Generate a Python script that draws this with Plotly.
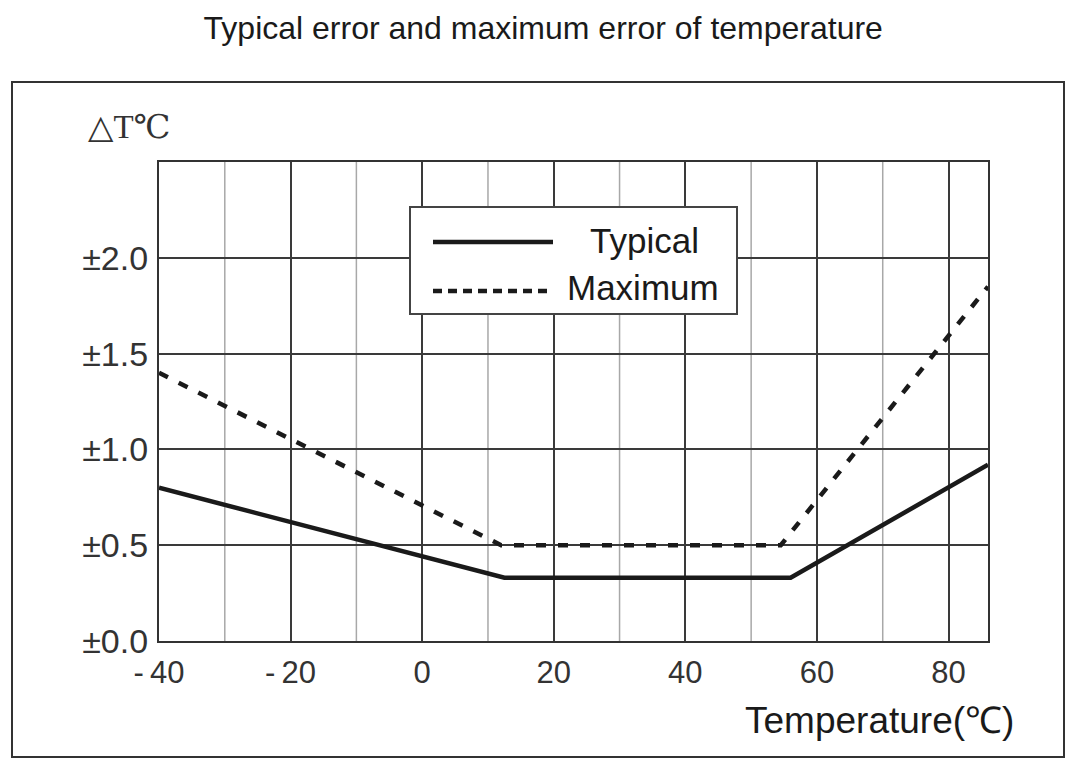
import plotly.graph_objects as go

# Data
temp_typical = [-40, 12.5, 56, 86]
err_typical = [0.8, 0.33, 0.33, 0.92]
temp_max = [-40, 12, 54.5, 86]
err_max = [1.4, 0.5, 0.5, 1.85]

x_ticks = [-40, -20, 0, 20, 40, 60, 80]
x_ticktext = ["-\u200940", "-\u200920", "0", "20", "40", "60", "80"]
y_ticks = [0, 0.5, 1.0, 1.5, 2.0]
y_ticktext = ["±0.0", "±0.5", "±1.0", "±1.5", "±2.0"]

W, H = 1080, 772
L, R, T, B = 159, 988, 162, 641
pw, ph = R - L, B - T
def px(x):
    return (x - L) / pw
def py(y):
    return (B - y) / ph

INK = "#1a1a1a"
FONT = "Liberation Sans, Arial, sans-serif"

fig = go.Figure()
fig.add_trace(go.Scatter(x=temp_typical, y=err_typical, mode="lines", name="Typical",
                         line=dict(color=INK, width=4.5), showlegend=False))
fig.add_trace(go.Scatter(x=temp_max, y=err_max, mode="lines", name="Maximum",
                         line=dict(color=INK, width=4.5, dash="10px,12px"), showlegend=False))

shapes = []
# minor vertical gridlines every 10
for v in range(-30, 90, 20):
    shapes.append(dict(type="line", xref="x", yref="paper", x0=v, x1=v, y0=0, y1=1,
                       line=dict(color="#a8a8a8", width=1.5), layer="below"))
# outer frame
shapes.append(dict(type="rect", xref="paper", yref="paper", x0=px(12), x1=px(1064),
                   y0=py(757), y1=py(82), line=dict(color="#333", width=2)))
# legend box
shapes.append(dict(type="rect", xref="paper", yref="paper", x0=px(410), x1=px(737),
                   y0=py(314), y1=py(207), line=dict(color="#444", width=2),
                   fillcolor="white", layer="above"))
shapes.append(dict(type="line", xref="paper", yref="paper", x0=px(433), x1=px(553),
                   y0=py(242), y1=py(242), line=dict(color=INK, width=4.5)))
shapes.append(dict(type="line", xref="paper", yref="paper", x0=px(433), x1=px(553),
                   y0=py(291), y1=py(291), line=dict(color=INK, width=4.5, dash="9px,6px")))

annotations = [
    dict(text="Typical", xref="paper", yref="paper", x=px(588), y=py(240),
         xanchor="left", yanchor="middle", showarrow=False,
         font=dict(family=FONT, size=35, color=INK)),
    dict(text="Maximum", xref="paper", yref="paper", x=px(565), y=py(287),
         xanchor="left", yanchor="middle", showarrow=False,
         font=dict(family=FONT, size=35, color=INK)),
    dict(text="△T℃", xref="paper", yref="paper", x=px(86), y=py(127),
         xanchor="left", yanchor="middle", showarrow=False,
         font=dict(family="Liberation Serif, DejaVu Serif, serif", size=33, color="#333")),
    dict(text="Temperature(℃)", xref="paper", yref="paper", x=px(743), y=py(720),
         xanchor="left", yanchor="middle", showarrow=False,
         font=dict(family=FONT, size=37, color=INK)),
]

fig.update_layout(
    width=W, height=H,
    margin=dict(l=L, r=W - R, t=T, b=H - B),
    paper_bgcolor="white", plot_bgcolor="white",
    title=dict(text="Typical error and maximum error of temperature", x=0.503, xanchor="center",
               y=1 - 28 / H, yanchor="middle", font=dict(family=FONT, size=32, color=INK)),
    shapes=shapes, annotations=annotations,
    showlegend=False,
    xaxis=dict(range=[-40, 86], tickvals=x_ticks, ticktext=x_ticktext,
               showgrid=True, gridcolor="#3a3a3a", gridwidth=2.2,
               showline=True, linecolor="#333", linewidth=2.2, mirror=True,
               zeroline=False, ticks="", ticklabelstandoff=3,
               tickfont=dict(family=FONT, size=31, color="#333")),
    yaxis=dict(range=[0, 2.5], tickvals=y_ticks, ticktext=y_ticktext,
               showgrid=True, gridcolor="#3a3a3a", gridwidth=2.2,
               showline=True, linecolor="#333", linewidth=2.2, mirror=True,
               zeroline=False, ticks="", ticklabelstandoff=2,
               tickfont=dict(family=FONT, size=34, color="#333")),
)

fig.write_html("out.html")
